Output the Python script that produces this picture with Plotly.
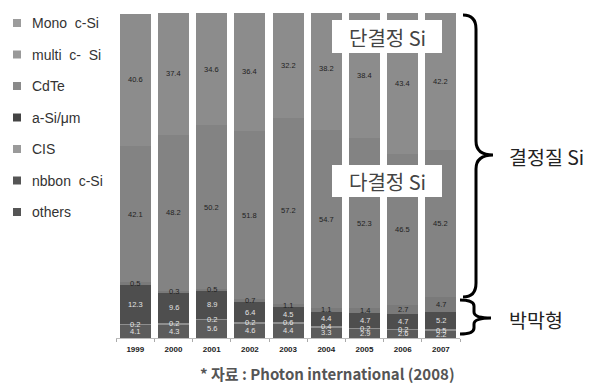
import numpy as np
import plotly.graph_objects as go

# Market share of PV technologies by year (%)
years = ["1999", "2000", "2001", "2002", "2003", "2004", "2005", "2006", "2007"]
mono = [40.6, 37.4, 34.6, 36.4, 32.2, 38.2, 38.4, 43.4, 42.2]
multi = [42.1, 48.2, 50.2, 51.8, 57.2, 54.7, 52.3, 46.5, 45.2]
cdte = [0.5, 0.3, 0.5, 0.7, 1.1, 1.1, 1.4, 2.7, 4.7]
asi = [12.3, 9.6, 8.9, 6.4, 4.5, 4.4, 4.7, 4.7, 5.2]
cis = [0.2, 0.2, 0.2, 0.2, 0.6, 0.4, 0.2, 0.2, 0.5]
ribbon = [4.1, 4.3, 5.6, 4.6, 4.4, 3.3, 2.9, 2.6, 2.2]
others = [0, 0, 0, 0, 0, 0, 0, 0, 0]

legend_names = ["Mono  c-Si", "multi  c-  Si", "CdTe", "a-Si/\u03bcm", "CIS",
                "nbbon  c-Si", "others"]

# stacking order, bottom to top: (name, values, bar colour, label colour)
series = [
    ("others", others, "#5a5a5a", None),
    ("nbbon  c-Si", ribbon, "#5c5c5c", "#e2e2e2"),
    ("CIS", cis, "#8e8e8e", "#e6e6e6"),
    ("a-Si/\u03bcm", asi, "#4e4e4e", "#e2e2e2"),
    ("CdTe", cdte, "#7a7a7a", "#222222"),
    ("multi  c-  Si", multi, "#838383", "#222222"),
    ("Mono  c-Si", mono, "#8c8c8c", "#222222"),
]
legend_colors = {
    "Mono  c-Si": "#9c9c9c",
    "multi  c-  Si": "#999999",
    "CdTe": "#8a8a8a",
    "a-Si/\u03bcm": "#444444",
    "CIS": "#9a9a9a",
    "nbbon  c-Si": "#555555",
    "others": "#555555",
}

W, H = 593, 385


def px(x):
    return x / W


def py(y):
    return 1 - y / H


def label(x, y, text, size, color, family="Noto Sans CJK KR", xanchor="center"):
    return dict(x=px(x), y=py(y), xref="paper", yref="paper", text=text,
                xanchor=xanchor, yanchor="middle", showarrow=False,
                font=dict(size=size, color=color, family=family))


fig = go.Figure()
annotations = []
base = np.zeros(len(years))
for name, vals, color, tcolor in series:
    v = np.array(vals, dtype=float)
    fig.add_trace(go.Bar(
        x=years, y=v, name=name, showlegend=False,
        marker=dict(color=color, line=dict(width=0)),
        hoverinfo="skip",
    ))
    if tcolor is not None:
        mids = base + v / 2
        for i, (val, m) in enumerate(zip(v, mids)):
            annotations.append(dict(
                x=i, y=float(m), xref="x", yref="y", text=f"{val:g}",
                xanchor="center", yanchor="middle", showarrow=False,
                font=dict(size=7.5, color=tcolor, family="Liberation Sans"),
            ))
    base = base + v

shapes = []

# legend column on the left
for k, name in enumerate(legend_names):
    yc = 23 + k * 31.5
    shapes.append(dict(type="rect", xref="paper", yref="paper",
                       x0=px(13), x1=px(21), y0=py(yc + 4), y1=py(yc - 4),
                       fillcolor=legend_colors[name], line=dict(width=0)))
    annotations.append(label(30, yc, name.replace("  ", "&nbsp; "), 14,
                             "#333333", family="Liberation Sans",
                             xanchor="left"))

# boxed captions, bracket labels and source note
annotations += [
    label(387, 37, "단결정 Si", 20, "#444444"),
    label(387, 181, "다결정 Si", 20, "#444444"),
    label(507, 156, "결정질 Si", 19.5, "#222222", xanchor="left"),
    label(507, 319, "박막형", 19.5, "#222222", xanchor="left"),
    label(327, 373, "<b>* 자료 : Photon international (2008)</b>", 15,
          "#555555"),
]


def brace(x0, xv, xt, ytop, ymid, ybot, r):
    pts = [
        f"M {px(x0)},{py(ytop)}",
        f"Q {px(xv)},{py(ytop)} {px(xv)},{py(ytop + r)}",
        f"L {px(xv)},{py(ymid - r)}",
        f"Q {px(xv)},{py(ymid)} {px(xt)},{py(ymid)}",
        f"Q {px(xv)},{py(ymid)} {px(xv)},{py(ymid + r)}",
        f"L {px(xv)},{py(ybot - r)}",
        f"Q {px(xv)},{py(ybot)} {px(x0)},{py(ybot)}",
    ]
    return " ".join(pts)


shapes += [
    dict(type="rect", xref="paper", yref="paper", x0=px(332), x1=px(442),
         y0=py(53), y1=py(20), fillcolor="white", line=dict(width=0),
         layer="above"),
    dict(type="rect", xref="paper", yref="paper", x0=px(332), x1=px(442),
         y0=py(197), y1=py(165), fillcolor="white", line=dict(width=0),
         layer="above"),
    dict(type="path", xref="paper", yref="paper",
         path=brace(463, 476, 493, 15, 155, 297, 14),
         line=dict(color="black", width=3)),
    dict(type="path", xref="paper", yref="paper",
         path=brace(460, 474, 491, 300, 318, 334, 6),
         line=dict(color="black", width=3)),
]

fig.update_layout(
    width=W, height=H,
    margin=dict(l=0, r=0, t=0, b=0),
    barmode="stack", bargap=0.19,
    plot_bgcolor="white", paper_bgcolor="white",
    font=dict(family="Liberation Sans", color="#333333"),
    showlegend=False,
    xaxis=dict(
        domain=[px(116.2), px(460)], type="category",
        range=[-0.5, 8.5],
        tickmode="array", tickvals=years,
        ticktext=[f"<b>{y}</b>" for y in years],
        tickfont=dict(size=8, color="#222222", family="Liberation Sans"),
        ticks="outside", ticklen=3, tickcolor="#aaaaaa", tickson="boundaries",
        ticklabelstandoff=3,
        showline=True, linecolor="#bbbbbb", linewidth=1,
        showgrid=False, zeroline=False, fixedrange=True,
    ),
    yaxis=dict(
        domain=[py(338), py(13)], range=[0, 100],
        visible=False, showgrid=False, zeroline=False, fixedrange=True,
    ),
    annotations=annotations,
    shapes=shapes,
)

fig.write_html("out.html")
